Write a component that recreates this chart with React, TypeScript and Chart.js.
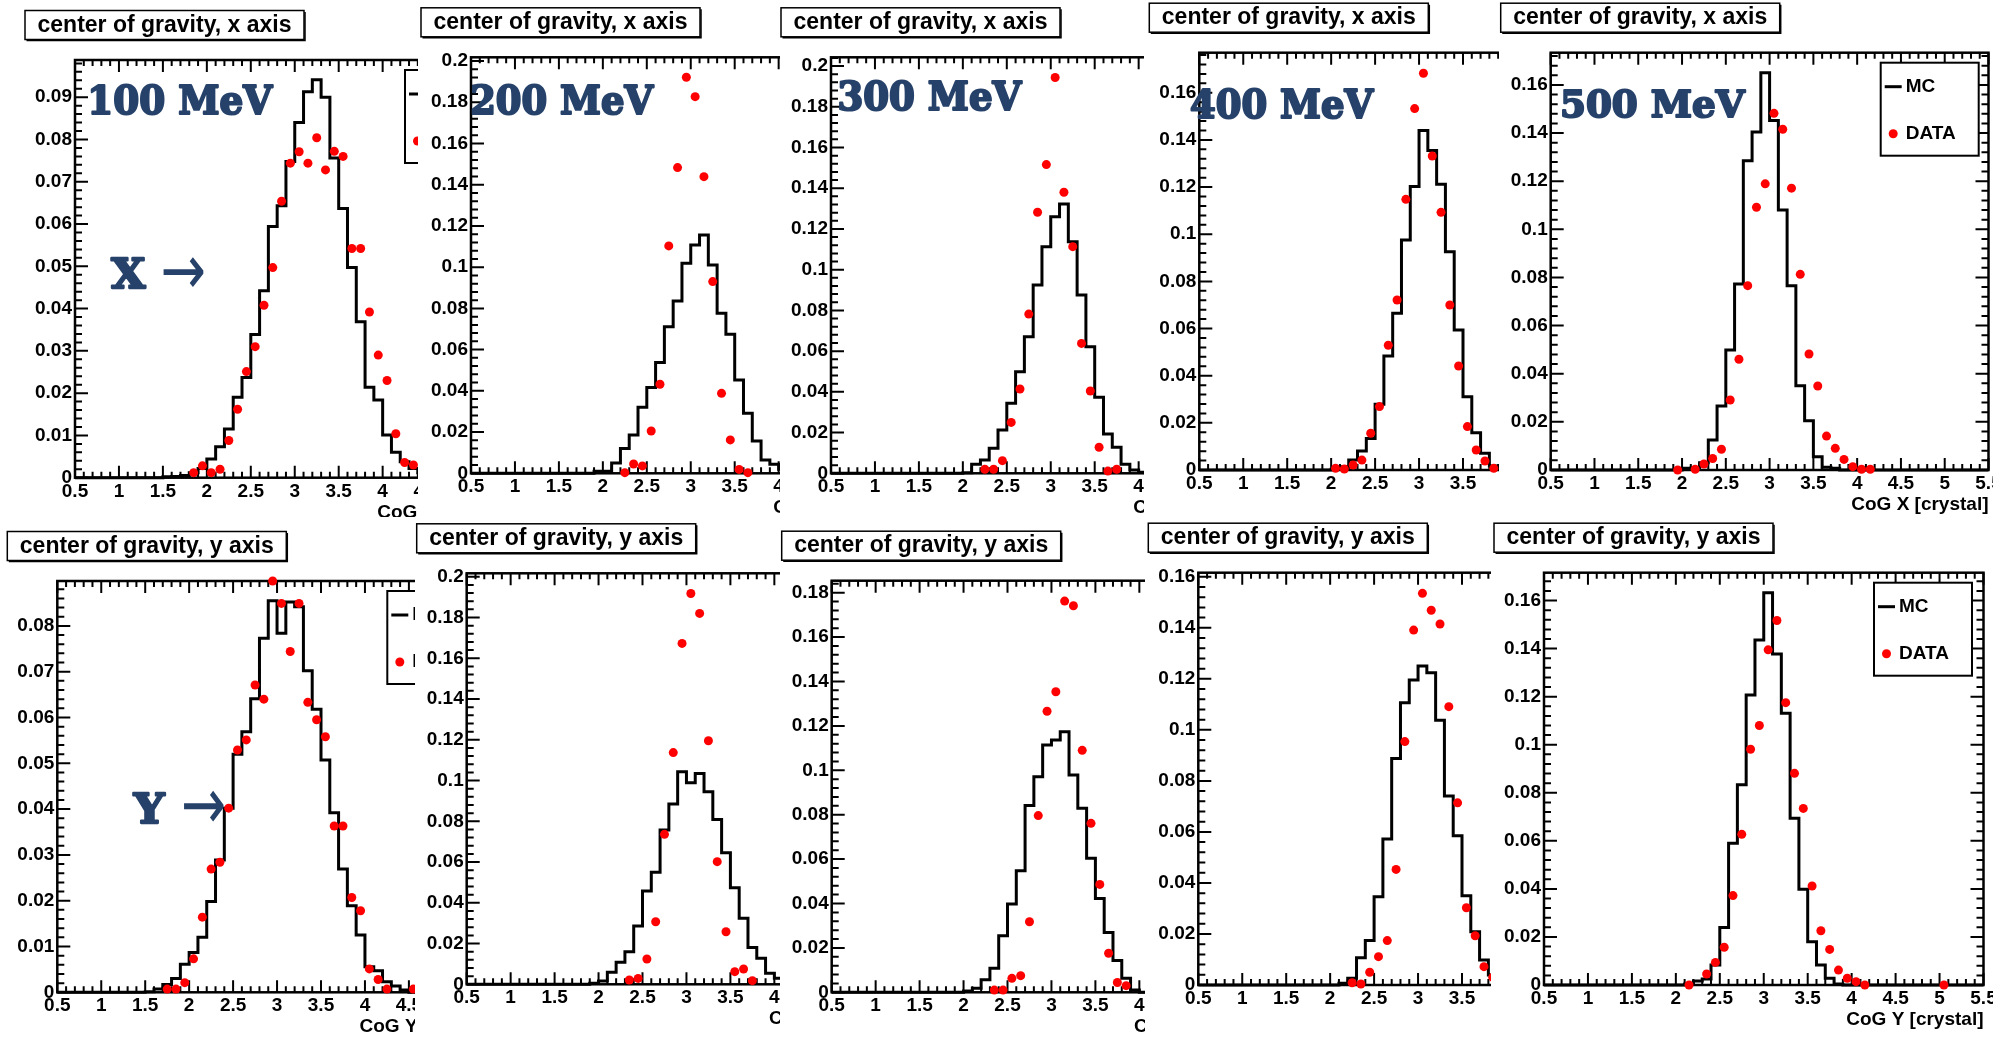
import React, { useEffect, useRef } from "react";
import { Chart, registerables } from "chart.js";

Chart.register(...registerables);

// ---------------- data ----------------
const X_MIN = 0.5;
const X_MAX = 5.5;
const BIN = 0.1;
const xTickValues = [0.5, 1, 1.5, 2, 2.5, 3, 3.5, 4, 4.5, 5, 5.5];

const titleX = "center of gravity, x axis";
const titleY = "center of gravity, y axis";
const axisTitleX = "CoG X [crystal]";
const axisTitleY = "CoG Y [crystal]";
const legendLabels = ["MC", "DATA"];
const energyLabels = ["100 MeV", "200 MeV", "300 MeV", "400 MeV", "500 MeV"];
const axisLetters = ["X", "Y"];
const arrowGlyph = "\u2192";

// MC histograms: first bin low edge + bin contents (bin width 0.1)
const mcX100Start = 1.5;
const mcX100 = [0.0002, 0.0003, 0.0005, 0.0012, 0.0022, 0.0044, 0.0073, 0.0115, 0.019, 0.0237, 0.0339, 0.0442, 0.0594, 0.0643, 0.0748, 0.084, 0.0913, 0.0941, 0.09, 0.0756, 0.0637, 0.0497, 0.0369, 0.0214, 0.0184, 0.0101, 0.006, 0.0038, 0.0022, 0.0012, 0.0006];
const mcX200Start = 1.9;
const mcX200 = [0.001, 0.001, 0.005, 0.012, 0.0186, 0.032, 0.0416, 0.0537, 0.0711, 0.0836, 0.1019, 0.1107, 0.1156, 0.101, 0.0776, 0.0674, 0.0453, 0.0291, 0.0157, 0.0065, 0.0044, 0.002, 0.001];
const mcX300Start = 2.0;
const mcX300 = [0.0003, 0.0044, 0.0065, 0.0123, 0.0213, 0.0344, 0.0499, 0.0671, 0.0925, 0.1113, 0.126, 0.1322, 0.1137, 0.0876, 0.0622, 0.0373, 0.0193, 0.0128, 0.0044, 0.0016, 0.0005];
const mcX400Start = 2.0;
const mcX400 = [0.0003, 0.0014, 0.0042, 0.0081, 0.0134, 0.0279, 0.0484, 0.0665, 0.0976, 0.1202, 0.144, 0.1355, 0.1212, 0.0926, 0.0594, 0.0311, 0.0158, 0.0071, 0.0017, 0.0005];
const mcX500Start = 2.0;
const mcX500 = [0.0007, 0.0008, 0.003, 0.0125, 0.0266, 0.0499, 0.0773, 0.1285, 0.1405, 0.1651, 0.1452, 0.108, 0.0766, 0.035, 0.0205, 0.0055, 0.0011, 0.0007];

const mcY100Start = 1.5;
const mcY100 = [0.0001, 0.0007, 0.0017, 0.003, 0.0061, 0.0087, 0.012, 0.0198, 0.0289, 0.0402, 0.052, 0.0569, 0.0641, 0.0773, 0.0855, 0.0784, 0.0852, 0.0842, 0.0702, 0.0618, 0.0507, 0.0392, 0.0269, 0.0189, 0.0125, 0.0056, 0.0047, 0.0023, 0.0014, 0.0005];
const mcY200Start = 1.9;
const mcY200 = [0.0005, 0.0016, 0.0059, 0.0108, 0.016, 0.0286, 0.0458, 0.055, 0.0757, 0.0885, 0.1043, 0.0989, 0.1035, 0.0945, 0.0809, 0.0646, 0.0474, 0.0324, 0.018, 0.0128, 0.0054, 0.003];
const mcY300Start = 2.0;
const mcY300 = [0.0006, 0.0018, 0.0056, 0.0108, 0.0255, 0.0398, 0.0548, 0.0841, 0.0971, 0.1114, 0.1136, 0.1174, 0.0979, 0.0829, 0.0604, 0.0423, 0.0269, 0.0143, 0.0063, 0.001];
const mcY400Start = 2.1;
const mcY400 = [0.0007, 0.0026, 0.0107, 0.0174, 0.0346, 0.0572, 0.0888, 0.1106, 0.1195, 0.125, 0.1224, 0.1038, 0.0741, 0.0585, 0.035, 0.0209, 0.0098, 0.0039, 0.001];
const mcY500Start = 2.1;
const mcY500 = [0.0004, 0.0017, 0.0025, 0.0083, 0.0239, 0.059, 0.0833, 0.1207, 0.1436, 0.1633, 0.1378, 0.1131, 0.0694, 0.0398, 0.018, 0.0083, 0.0028, 0.0004];

// DATA points: [bin centre, content]
const dataX100 = [[1.85, 0.0012], [1.95, 0.0028], [2.05, 0.0012], [2.15, 0.002], [2.25, 0.0088], [2.35, 0.0162], [2.45, 0.0251], [2.55, 0.031], [2.65, 0.0408], [2.75, 0.0497], [2.85, 0.0654], [2.95, 0.0744], [3.05, 0.0771], [3.15, 0.0744], [3.25, 0.0804], [3.35, 0.0728], [3.45, 0.0772], [3.55, 0.076], [3.65, 0.0542], [3.75, 0.0542], [3.85, 0.0392], [3.95, 0.029], [4.05, 0.023], [4.15, 0.0104], [4.25, 0.0036], [4.35, 0.003]];
const dataX200 = [[2.25, 0.0003], [2.35, 0.0045], [2.45, 0.0036], [2.55, 0.0205], [2.65, 0.0432], [2.75, 0.1103], [2.85, 0.1483], [2.95, 0.1921], [3.05, 0.1827], [3.15, 0.1439], [3.25, 0.093], [3.35, 0.0388], [3.45, 0.0162], [3.55, 0.0019], [3.65, 0.0003]];
const dataX300 = [[2.25, 0.002], [2.35, 0.002], [2.45, 0.0062], [2.55, 0.025], [2.65, 0.0414], [2.75, 0.0782], [2.85, 0.1282], [2.95, 0.1516], [3.05, 0.1944], [3.15, 0.138], [3.25, 0.1113], [3.35, 0.0638], [3.45, 0.0404], [3.55, 0.0128], [3.65, 0.0011], [3.75, 0.002]];
const dataX400 = [[2.05, 0.0007], [2.15, 0.0004], [2.25, 0.0021], [2.35, 0.0042], [2.45, 0.0156], [2.55, 0.0269], [2.65, 0.0529], [2.75, 0.0721], [2.85, 0.1148], [2.95, 0.1533], [3.05, 0.1683], [3.15, 0.1332], [3.25, 0.1093], [3.35, 0.07], [3.45, 0.0441], [3.55, 0.0184], [3.65, 0.0085], [3.75, 0.0038], [3.85, 0.0007]];
const dataX500 = [[1.95, 0.0], [2.15, 0.0003], [2.25, 0.0025], [2.35, 0.0048], [2.45, 0.0086], [2.55, 0.0291], [2.65, 0.046], [2.75, 0.0766], [2.85, 0.1092], [2.95, 0.1189], [3.05, 0.1482], [3.15, 0.1416], [3.25, 0.1171], [3.35, 0.0813], [3.45, 0.0482], [3.55, 0.0349], [3.65, 0.0141], [3.75, 0.009], [3.85, 0.0044], [3.95, 0.0014], [4.05, 0.0003], [4.15, 0.0003]];

const dataY100 = [[1.75, 0.0007], [1.85, 0.0007], [1.95, 0.0021], [2.05, 0.0073], [2.15, 0.0164], [2.25, 0.0269], [2.35, 0.0284], [2.45, 0.0402], [2.55, 0.0529], [2.65, 0.0551], [2.75, 0.0671], [2.85, 0.064], [2.95, 0.0898], [3.05, 0.0849], [3.15, 0.0744], [3.25, 0.0849], [3.35, 0.0633], [3.45, 0.0595], [3.55, 0.0558], [3.65, 0.0363], [3.75, 0.0363], [3.85, 0.0207], [3.95, 0.0178], [4.05, 0.0051], [4.15, 0.0028], [4.25, 0.0007], [4.55, 0.0007]];
const dataY200 = [[2.35, 0.0021], [2.45, 0.0029], [2.55, 0.0124], [2.65, 0.0307], [2.75, 0.0736], [2.85, 0.1137], [2.95, 0.1673], [3.05, 0.1918], [3.15, 0.182], [3.25, 0.1195], [3.35, 0.0602], [3.45, 0.0258], [3.55, 0.0062], [3.65, 0.0075], [3.75, 0.0018]];
const dataY300 = [[2.35, 0.001], [2.45, 0.001], [2.55, 0.0063], [2.65, 0.0075], [2.75, 0.0318], [2.85, 0.0796], [2.95, 0.1266], [3.05, 0.1354], [3.15, 0.1762], [3.25, 0.1741], [3.35, 0.109], [3.45, 0.0761], [3.55, 0.0486], [3.65, 0.0176], [3.75, 0.0044], [3.85, 0.003]];
const dataY400 = [[2.25, 0.0009], [2.35, 0.0004], [2.45, 0.005], [2.55, 0.0111], [2.65, 0.0174], [2.75, 0.0453], [2.85, 0.0954], [2.95, 0.1391], [3.05, 0.1535], [3.15, 0.1469], [3.25, 0.1415], [3.35, 0.1091], [3.45, 0.0714], [3.55, 0.0303], [3.65, 0.0193], [3.75, 0.0072], [3.85, 0.003]];
const dataY500 = [[2.15, 0.0], [2.35, 0.0046], [2.45, 0.0094], [2.55, 0.0157], [2.65, 0.0372], [2.75, 0.0627], [2.85, 0.0981], [2.95, 0.108], [3.05, 0.1395], [3.15, 0.1517], [3.25, 0.1175], [3.35, 0.0881], [3.45, 0.0735], [3.55, 0.0412], [3.65, 0.0226], [3.75, 0.0148], [3.85, 0.0062], [3.95, 0.0028], [4.05, 0.0014], [4.15, 0.0], [5.05, 0.0]];

// y-axis ranges / steps per panel
const yMaxTop = [0.0988, 0.2018, 0.2043, 0.177, 0.1734];
const yMaxBottom = [0.0898, 0.2017, 0.1854, 0.1616, 0.1716];
const yStepTop = [0.01, 0.02, 0.02, 0.02, 0.02];
const yStepBottom = [0.01, 0.02, 0.02, 0.02, 0.02];

// ---------------- layout (page pixels) ----------------
const PLOT_W = 439.5;
const LABEL_FONT = 'bold 19px "Liberation Sans", Arial, sans-serif';
const TITLE_FONT = 'bold 23px "Liberation Sans", Arial, sans-serif';
const BIG_FONT = 'bold 40px "DejaVu Serif", serif';
const BIG_COLOR = "#26426a";

const panels: any[] = [
  { cl: 0, ct: 0, cw: 540, ch: 517, pl: 75, pt: 60, ph: 417.7, ymax: yMaxTop[0], ystep: yStepTop[0], title: titleX, axisTitle: axisTitleX, mcStart: mcX100Start, mc: mcX100, data: dataX100,
    energy: { text: energyLabels[0], box: [90, 84, 274, 115.7] }, letter: { text: axisLetters[0], box: [110, 256.7, 146.7, 289.3], arrow: [163, 257, 204, 288] } },
  { cl: 418, ct: 0, cw: 518, ch: 517, pl: 471, pt: 57.3, ph: 416, ymax: yMaxTop[1], ystep: yStepTop[1], title: titleX, axisTitle: axisTitleX, mcStart: mcX200Start, mc: mcX200, data: dataX200,
    energy: { text: energyLabels[1], box: [471, 84, 655, 116] } },
  { cl: 780, ct: 0, cw: 516, ch: 517, pl: 831, pt: 57.3, ph: 416, ymax: yMaxTop[2], ystep: yStepTop[2], title: titleX, axisTitle: axisTitleX, mcStart: mcX300Start, mc: mcX300, data: dataX300,
    energy: { text: energyLabels[2], box: [838.3, 80, 1023.3, 111.7] } },
  { cl: 1144, ct: 0, cw: 520, ch: 517, pl: 1199.3, pt: 52.7, ph: 417.3, ymax: yMaxTop[3], ystep: yStepTop[3], title: titleX, axisTitle: axisTitleX, mcStart: mcX400Start, mc: mcX400, data: dataX400,
    energy: { text: energyLabels[3], box: [1190, 88.3, 1375, 120] } },
  { cl: 1499, ct: 0, cw: 494, ch: 517, pl: 1550.7, pt: 52.7, ph: 417.3, ymax: yMaxTop[4], ystep: yStepTop[4], title: titleX, axisTitle: axisTitleX, mcStart: mcX500Start, mc: mcX500, data: dataX500,
    energy: { text: energyLabels[4], box: [1561.7, 88.3, 1746.7, 119.3] } },
  { cl: 0, ct: 517, cw: 522, ch: 523, pl: 57.3, pt: 581, ph: 411.3, ymax: yMaxBottom[0], ystep: yStepBottom[0], title: titleY, axisTitle: axisTitleY, mcStart: mcY100Start, mc: mcY100, data: dataY100,
    letter: { text: axisLetters[1], box: [131.7, 791.7, 166.7, 824.3], arrow: [183.3, 791, 224, 823] } },
  { cl: 415, ct: 517, cw: 516, ch: 523, pl: 466.7, pt: 573.3, ph: 411, ymax: yMaxBottom[1], ystep: yStepBottom[1], title: titleY, axisTitle: axisTitleY, mcStart: mcY200Start, mc: mcY200, data: dataY200 },
  { cl: 780, ct: 517, cw: 516, ch: 523, pl: 831.7, pt: 580.7, ph: 411.6, ymax: yMaxBottom[2], ystep: yStepBottom[2], title: titleY, axisTitle: axisTitleY, mcStart: mcY300Start, mc: mcY300, data: dataY300 },
  { cl: 1145, ct: 517, cw: 518, ch: 523, pl: 1198.3, pt: 572.7, ph: 412.3, ymax: yMaxBottom[3], ystep: yStepBottom[3], title: titleY, axisTitle: axisTitleY, mcStart: mcY400Start, mc: mcY400, data: dataY400 },
  { cl: 1491, ct: 517, cw: 502, ch: 523, pl: 1544, pt: 572.7, ph: 412.3, ymax: yMaxBottom[4], ystep: yStepBottom[4], title: titleY, axisTitle: axisTitleY, mcStart: mcY500Start, mc: mcY500, data: dataY500 },
];

function fmt(v: number): string {
  return String(parseFloat(v.toFixed(4)));
}

function buildMC(start: number, values: number[]) {
  const nBins = Math.round((X_MAX - X_MIN) / BIN);
  const first = Math.round((start - X_MIN) / BIN);
  const pts: any[] = [];
  for (let k = 0; k < nBins; k++) {
    const idx = k - first;
    const v = idx >= 0 && idx < values.length ? values[idx] : 0;
    pts.push({ x: X_MIN + k * BIN, y: v });
  }
  pts.push({ x: X_MAX, y: 0 });
  return pts;
}

function drawFitted(ctx: CanvasRenderingContext2D, text: string, font: string, color: string, x0: number, y0: number, x1: number, y1: number, stroke: number) {
  ctx.save();
  ctx.font = font;
  ctx.textAlign = "left";
  ctx.textBaseline = "alphabetic";
  const m = ctx.measureText(text);
  const L = m.actualBoundingBoxLeft, R = m.actualBoundingBoxRight;
  const A = m.actualBoundingBoxAscent, D = m.actualBoundingBoxDescent;
  const h = stroke / 2;
  const sx = (x1 - x0) / (L + R + stroke);
  const sy = (y1 - y0) / (A + D + stroke);
  ctx.translate(x0, y0);
  ctx.scale(sx, sy);
  ctx.fillStyle = color;
  ctx.fillText(text, L + h, A + h);
  if (stroke > 0) {
    ctx.strokeStyle = color;
    ctx.lineWidth = stroke;
    ctx.lineJoin = "round";
    ctx.strokeText(text, L + h, A + h);
  }
  ctx.restore();
}

function makePlugin(p: any) {
  return {
    id: "rootStyle",
    beforeDraw(chart: any) {
      const ctx = chart.ctx;
      ctx.save();
      ctx.fillStyle = "#ffffff";
      ctx.fillRect(0, 0, chart.width, chart.height);
      ctx.restore();
    },
    beforeDatasetsDraw(chart: any) {
      const ctx: CanvasRenderingContext2D = chart.ctx;
      const xs = chart.scales.x, ys = chart.scales.y;
      const { left, right, top, bottom } = chart.chartArea;
      ctx.save();
      ctx.strokeStyle = "#000";
      ctx.lineWidth = 2;
      ctx.lineCap = "butt";
      // x ticks (bottom & top, pointing inward)
      const nx = Math.round((X_MAX - X_MIN) / BIN);
      for (let k = 0; k <= nx; k++) {
        const px = xs.getPixelForValue(X_MIN + k * BIN);
        const len = k % 5 === 0 ? 12 : 6;
        ctx.beginPath();
        ctx.moveTo(px, bottom);
        ctx.lineTo(px, bottom - len);
        ctx.moveTo(px, top);
        ctx.lineTo(px, top + len);
        ctx.stroke();
      }
      // y ticks (left & right)
      const minor = p.ystep / 5;
      for (let j = 0; j * minor <= p.ymax + 1e-9; j++) {
        const py = ys.getPixelForValue(j * minor);
        const len = j % 5 === 0 ? 13 : 7;
        ctx.beginPath();
        ctx.moveTo(left, py);
        ctx.lineTo(left + len, py);
        ctx.moveTo(right, py);
        ctx.lineTo(right - len, py);
        ctx.stroke();
      }
      // frame
      ctx.lineWidth = 2.5;
      ctx.strokeRect(left, top, right - left, bottom - top);
      // tick labels
      ctx.fillStyle = "#000";
      ctx.font = LABEL_FONT;
      ctx.textAlign = "center";
      ctx.textBaseline = "alphabetic";
      xTickValues.forEach((v) => ctx.fillText(fmt(v), xs.getPixelForValue(v), bottom + 19));
      ctx.textAlign = "right";
      ctx.textBaseline = "middle";
      for (let j = 0; j * p.ystep <= p.ymax + 1e-9; j++) {
        const v = j * p.ystep;
        ctx.fillText(fmt(v), left - 3, ys.getPixelForValue(v));
      }
      // axis title
      ctx.textAlign = "right";
      ctx.textBaseline = "alphabetic";
      ctx.fillText(p.axisTitle, right, bottom + 40);
      // title box
      const bx = left - 50, by = top - 49.5, bw = 279, bh = 29;
      ctx.fillStyle = "#fff";
      ctx.fillRect(bx, by, bw, bh);
      ctx.lineWidth = 1.5;
      ctx.strokeRect(bx, by, bw, bh);
      ctx.beginPath();
      ctx.moveTo(bx + 1.5, by + bh + 1);
      ctx.lineTo(bx + bw + 1, by + bh + 1);
      ctx.lineTo(bx + bw + 1, by + 1.5);
      ctx.stroke();
      ctx.fillStyle = "#000";
      ctx.font = TITLE_FONT;
      ctx.textAlign = "center";
      ctx.fillText(p.title, bx + bw / 2, by + 21);
      ctx.restore();
    },
    afterDatasetsDraw(chart: any) {
      const ctx: CanvasRenderingContext2D = chart.ctx;
      const { left, top } = chart.chartArea;
      ctx.save();
      // legend
      const lx = left + 330, ly = top + 10, lw = 98, lh = 93;
      ctx.fillStyle = "#fff";
      ctx.fillRect(lx, ly, lw, lh);
      ctx.strokeStyle = "#000";
      ctx.lineWidth = 2;
      ctx.strokeRect(lx, ly, lw, lh);
      ctx.lineWidth = 3;
      ctx.beginPath();
      ctx.moveTo(lx + 4, ly + 24);
      ctx.lineTo(lx + 21, ly + 24);
      ctx.stroke();
      ctx.fillStyle = "#ff0000";
      ctx.beginPath();
      ctx.arc(lx + 12.5, ly + 71, 4.5, 0, Math.PI * 2);
      ctx.fill();
      ctx.fillStyle = "#000";
      ctx.font = LABEL_FONT;
      ctx.textAlign = "left";
      ctx.textBaseline = "middle";
      ctx.fillText(legendLabels[0], lx + 25, ly + 24);
      ctx.fillText(legendLabels[1], lx + 25, ly + 71);
      ctx.restore();
      // overlay labels
      const ox = p.cl, oy = p.ct;
      if (p.energy) {
        const b = p.energy.box;
        drawFitted(ctx, p.energy.text, BIG_FONT, BIG_COLOR, b[0] - ox, b[1] - oy, b[2] - ox, b[3] - oy, 2.2);
      }
      if (p.letter) {
        const b = p.letter.box;
        drawFitted(ctx, p.letter.text, 'bold 45px "DejaVu Serif", serif', BIG_COLOR, b[0] - ox, b[1] - oy, b[2] - ox, b[3] - oy, 2.5);
        const a = p.letter.arrow;
        drawFitted(ctx, arrowGlyph, '45px "DejaVu Sans", sans-serif', BIG_COLOR, a[0] - ox, a[1] - oy, a[2] - ox, a[3] - oy, 0);
      }
    },
  };
}

function Panel({ p }: { p: any }) {
  const ref = useRef<HTMLCanvasElement>(null);
  useEffect(() => {
    const canvas = ref.current;
    if (!canvas) return;
    const padLeft = p.pl - p.cl;
    const padTop = p.pt - p.ct;
    const padRight = p.cw - (p.pl + PLOT_W - p.cl);
    const padBottom = p.ch - (p.pt + p.ph - p.ct);
    const chart = new Chart(canvas, {
      type: "line",
      data: {
        datasets: [
          {
            label: legendLabels[1],
            data: p.data.map((d: number[]) => ({ x: d[0], y: d[1] })),
            showLine: false,
            pointRadius: 4.5,
            pointBackgroundColor: "#ff0000",
            pointBorderWidth: 0,
            pointBorderColor: "#ff0000",
            borderColor: "#ff0000",
            clip: false,
          } as any,
          {
            label: legendLabels[0],
            data: buildMC(p.mcStart, p.mc),
            stepped: true,
            borderColor: "#000",
            borderWidth: 3,
            pointRadius: 0,
            fill: false,
            clip: false,
          } as any,
        ],
      },
      options: {
        responsive: false,
        maintainAspectRatio: false,
        animation: false,
        devicePixelRatio: 1,
        events: [],
        layout: { padding: { left: padLeft, top: padTop, right: padRight, bottom: padBottom } },
        plugins: { legend: { display: false }, tooltip: { enabled: false }, title: { display: false } },
        scales: {
          x: { type: "linear", min: X_MIN, max: X_MAX, display: false },
          y: { type: "linear", min: 0, max: p.ymax, display: false },
        },
      } as any,
      plugins: [makePlugin(p) as any],
    });
    return () => chart.destroy();
  }, [p]);
  return (
    <canvas
      ref={ref}
      width={p.cw}
      height={p.ch}
      style={{ position: "absolute", left: p.cl, top: p.ct, width: p.cw, height: p.ch, display: "block" }}
    />
  );
}

export default function App() {
  return (
    <div style={{ position: "absolute", left: 0, top: 0, width: 2011, height: 1040, background: "#fff", overflow: "hidden" }}>
      {panels.map((p, i) => (
        <Panel key={i} p={p} />
      ))}
    </div>
  );
}
